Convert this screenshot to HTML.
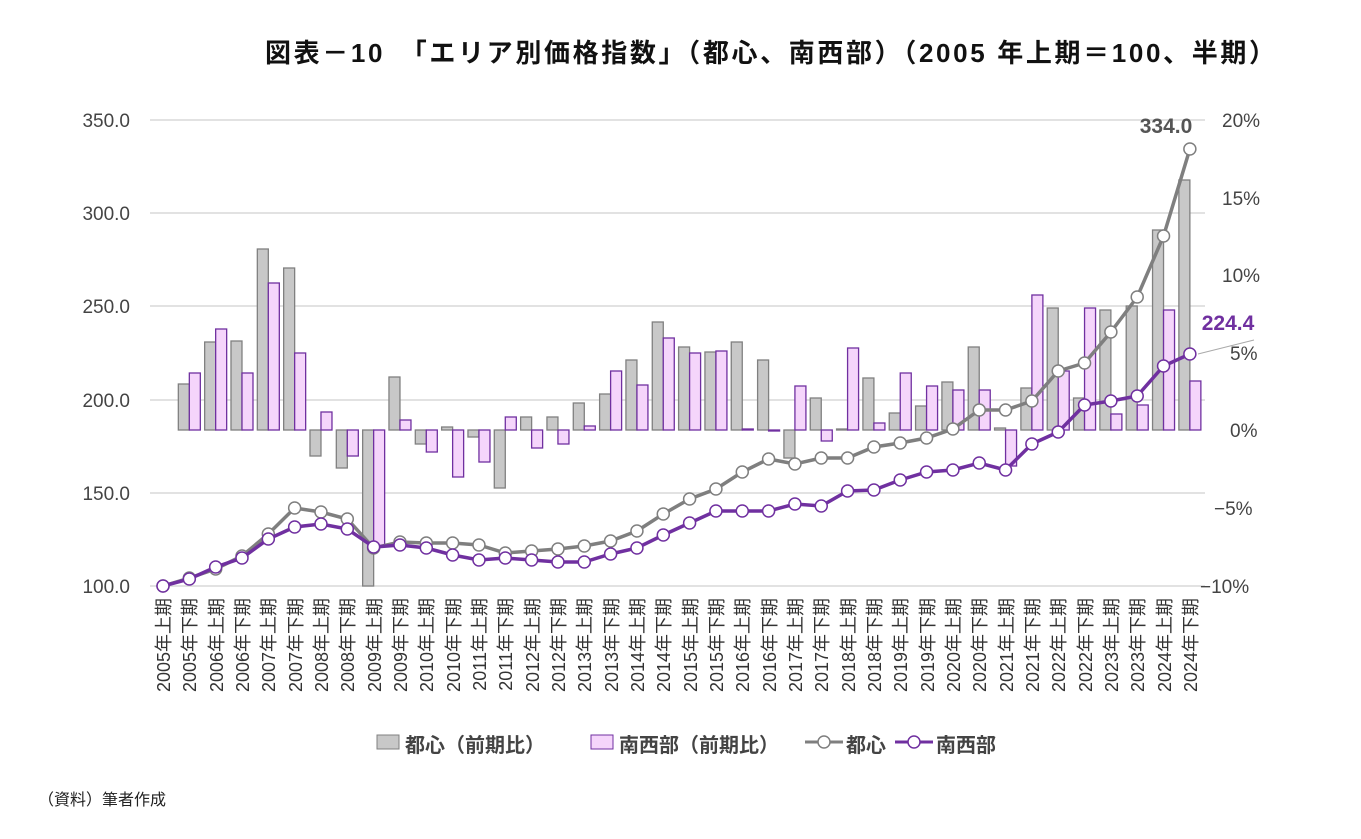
<!DOCTYPE html><html><head><meta charset="utf-8"><style>
body{margin:0;background:#fff;font-family:"Liberation Sans","Noto Sans CJK JP",sans-serif}
svg text{font-family:"Liberation Sans","Noto Sans CJK JP",sans-serif}
</style></head><body>
<svg id="s" width="1361" height="834" xmlns="http://www.w3.org/2000/svg">
<text x="265" y="62" font-size="26" font-weight="bold" fill="#111" textLength="1010" lengthAdjust="spacing">図表－10　「エリア別価格指数」（都心、南西部）（2005 年上期＝100、半期）</text>
<g stroke="#d9d9d9" stroke-width="1.5">
<line x1="150" x2="1205" y1="120" y2="120"/><line x1="150" x2="1205" y1="213" y2="213"/><line x1="150" x2="1205" y1="306" y2="306"/><line x1="150" x2="1205" y1="400" y2="400"/><line x1="150" x2="1205" y1="493" y2="493"/><line x1="150" x2="1205" y1="586" y2="586"/>
</g>
<g font-size="19" fill="#444" text-anchor="end">
<text x="130" y="127">350.0</text><text x="130" y="220">300.0</text><text x="130" y="313">250.0</text><text x="130" y="407">200.0</text><text x="130" y="500">150.0</text><text x="130" y="593">100.0</text>
</g>
<g font-size="19" fill="#444" text-anchor="start">
<text x="1222" y="127">20%</text><text x="1222" y="205">15%</text><text x="1222" y="282">10%</text><text x="1230" y="360">5%</text><text x="1230" y="437">0%</text><text x="1214" y="515">−5%</text><text x="1200" y="593">−10%</text>
</g>
<g id="bars"></g><g id="lines"></g>
<g font-size="18" fill="#333" id="xl">
<text transform="translate(170,598) rotate(-90)" text-anchor="end">2005年上期</text>
<text transform="translate(196,598) rotate(-90)" text-anchor="end">2005年下期</text>
<text transform="translate(223,598) rotate(-90)" text-anchor="end">2006年上期</text>
<text transform="translate(249,598) rotate(-90)" text-anchor="end">2006年下期</text>
<text transform="translate(275,598) rotate(-90)" text-anchor="end">2007年上期</text>
<text transform="translate(302,598) rotate(-90)" text-anchor="end">2007年下期</text>
<text transform="translate(328,598) rotate(-90)" text-anchor="end">2008年上期</text>
<text transform="translate(354,598) rotate(-90)" text-anchor="end">2008年下期</text>
<text transform="translate(381,598) rotate(-90)" text-anchor="end">2009年上期</text>
<text transform="translate(407,598) rotate(-90)" text-anchor="end">2009年下期</text>
<text transform="translate(433,598) rotate(-90)" text-anchor="end">2010年上期</text>
<text transform="translate(460,598) rotate(-90)" text-anchor="end">2010年下期</text>
<text transform="translate(486,598) rotate(-90)" text-anchor="end">2011年上期</text>
<text transform="translate(512,598) rotate(-90)" text-anchor="end">2011年下期</text>
<text transform="translate(539,598) rotate(-90)" text-anchor="end">2012年上期</text>
<text transform="translate(565,598) rotate(-90)" text-anchor="end">2012年下期</text>
<text transform="translate(591,598) rotate(-90)" text-anchor="end">2013年上期</text>
<text transform="translate(618,598) rotate(-90)" text-anchor="end">2013年下期</text>
<text transform="translate(644,598) rotate(-90)" text-anchor="end">2014年上期</text>
<text transform="translate(670,598) rotate(-90)" text-anchor="end">2014年下期</text>
<text transform="translate(697,598) rotate(-90)" text-anchor="end">2015年上期</text>
<text transform="translate(723,598) rotate(-90)" text-anchor="end">2015年下期</text>
<text transform="translate(749,598) rotate(-90)" text-anchor="end">2016年上期</text>
<text transform="translate(776,598) rotate(-90)" text-anchor="end">2016年下期</text>
<text transform="translate(802,598) rotate(-90)" text-anchor="end">2017年上期</text>
<text transform="translate(828,598) rotate(-90)" text-anchor="end">2017年下期</text>
<text transform="translate(855,598) rotate(-90)" text-anchor="end">2018年上期</text>
<text transform="translate(881,598) rotate(-90)" text-anchor="end">2018年下期</text>
<text transform="translate(907,598) rotate(-90)" text-anchor="end">2019年上期</text>
<text transform="translate(934,598) rotate(-90)" text-anchor="end">2019年下期</text>
<text transform="translate(960,598) rotate(-90)" text-anchor="end">2020年上期</text>
<text transform="translate(986,598) rotate(-90)" text-anchor="end">2020年下期</text>
<text transform="translate(1013,598) rotate(-90)" text-anchor="end">2021年上期</text>
<text transform="translate(1039,598) rotate(-90)" text-anchor="end">2021年下期</text>
<text transform="translate(1065,598) rotate(-90)" text-anchor="end">2022年上期</text>
<text transform="translate(1092,598) rotate(-90)" text-anchor="end">2022年下期</text>
<text transform="translate(1118,598) rotate(-90)" text-anchor="end">2023年上期</text>
<text transform="translate(1144,598) rotate(-90)" text-anchor="end">2023年下期</text>
<text transform="translate(1171,598) rotate(-90)" text-anchor="end">2024年上期</text>
<text transform="translate(1197,598) rotate(-90)" text-anchor="end">2024年下期</text>
</g>
<text x="1166" y="133" font-size="21" font-weight="bold" fill="#555" text-anchor="middle">334.0</text>
<text x="1228" y="330" font-size="21" font-weight="bold" fill="#7030a0" text-anchor="middle">224.4</text>
<line x1="1198" y1="354" x2="1254" y2="340" stroke="#aaa" stroke-width="1"/>
<g font-size="20" font-weight="bold" fill="#444">
<rect x="377" y="735" width="22" height="14" fill="#c8c8c8" stroke="#808080"/>
<text x="405" y="752">都心（前期比）</text>
<rect x="591" y="735" width="22" height="14" fill="#f5d5fb" stroke="#7030a0"/>
<text x="619" y="752">南西部（前期比）</text>
<line x1="805" x2="843" y1="742" y2="742" stroke="#7f7f7f" stroke-width="3"/><circle cx="824" cy="742" r="6" fill="#fff" stroke="#7f7f7f" stroke-width="1.5"/>
<text x="846" y="752">都心</text>
<line x1="895" x2="933" y1="742" y2="742" stroke="#7030a0" stroke-width="3"/><circle cx="914" cy="742" r="6" fill="#fff" stroke="#7030a0" stroke-width="1.5"/>
<text x="936" y="752">南西部</text>
</g>
<text x="38" y="805" font-size="16" fill="#222">（資料）筆者作成</text>
</svg>
<script>
var G=[null,384,342,341,249,268,456,468,586,377,444,427,437,488,417,417,403,394,360,322,347,352,342,360,458,398,429,378,413,406,382,347,428,388,308,398,310,306,230,180];
var P=[null,373,329,373,283,353,412,456,546,420,452,477,462,417,448,444,426,371,385,338,353,351,429,431,386,441,348,423,373,386,390,390,466,295,371,308,414,405,310,381];
var L1=[586,578,569,556,534,508,512,519,548,542,543,543,545,553,551,549,546,541,531,514,499,489,472,459,464,458,458,447,443,438,429,410,410,401,371,363,332,297,236,149];
var L2=[586,579,567,558,539,527,524,529,547,545,548,555,560,558,560,562,562,554,548,535,523,511,511,511,504,506,491,490,480,472,470,463,470,444,432,405,401,396,366,354];
var ns="http://www.w3.org/2000/svg",B=430,bars=document.getElementById('bars'),lines=document.getElementById('lines');
function el(t,a,p){var e=document.createElementNS(ns,t);for(var k in a)e.setAttribute(k,a[k]);p.appendChild(e);return e;}
function X(i){return 163+i*26.33;}
for(var i=1;i<40;i++){var x=X(i);
el('rect',{x:x-11,y:Math.min(G[i],B),width:11,height:Math.abs(G[i]-B),fill:'#c8c8c8',stroke:'#808080','stroke-width':1.3},bars);
el('rect',{x:x,y:Math.min(P[i],B),width:11,height:Math.abs(P[i]-B),fill:'#f5d5fb',stroke:'#7030a0','stroke-width':1.3},bars);}
[[L1,'#7f7f7f'],[L2,'#7030a0']].forEach(function(s){var d=s[0].map(function(y,i){return (i?'L':'M')+X(i)+','+y}).join('');
el('path',{d:d,fill:'none',stroke:s[1],'stroke-width':3.5},lines);
s[0].forEach(function(y,i){el('circle',{cx:X(i),cy:y,r:6,fill:'#fff',stroke:s[1],'stroke-width':1.5},lines);});});
</script>
</body></html>
